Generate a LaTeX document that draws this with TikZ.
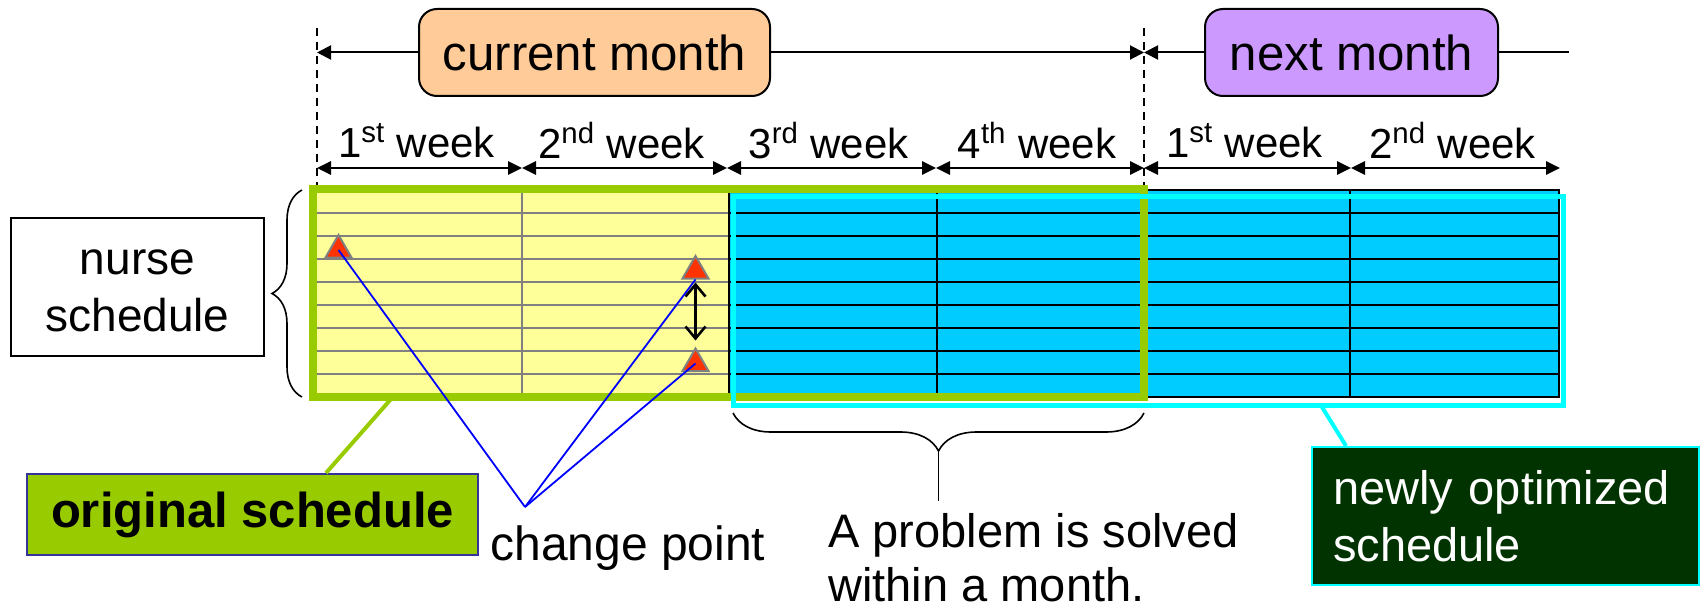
\documentclass[tikz,border=0pt]{standalone}
\usepackage{fontspec}
\setmainfont{Liberation Sans}
\usetikzlibrary{arrows.meta,shapes.geometric,decorations.pathreplacing}

\definecolor{schedyellow}{HTML}{FFFF99}
\definecolor{schedblue}{HTML}{00CCFF}
\definecolor{origgreen}{HTML}{99CC00}
\definecolor{newcyan}{HTML}{00FFFF}
\definecolor{curorange}{HTML}{FFCC99}
\definecolor{nextpurple}{HTML}{CC99FF}
\definecolor{darkgreen}{HTML}{003300}
\definecolor{boxblue}{HTML}{333399}
\definecolor{pointred}{HTML}{FF3300}

\begin{document}
\begin{tikzpicture}[x=0.5pt,y=-0.5pt,
  bigtext/.style={font=\fontsize{24}{28.5}\selectfont},
  monthbox/.style={draw,line width=1pt,rounded corners=9pt,minimum height=43.5pt,font=\fontsize{24.6}{29}\selectfont},
  weeklbl/.style={font=\fontsize{21}{25}\selectfont},
  monthline/.style={line width=1pt,-{Triangle[length=7pt,width=7pt]}},
  weekline/.style={line width=1.4pt,{Triangle[length=7pt,width=6.5pt]}-{Triangle[length=7pt,width=6.5pt]}},
  grayrow/.style={gray,line width=1pt},
  blackrow/.style={black,line width=1pt},
  changept/.style={regular polygon,regular polygon sides=3,fill=pointred,draw=gray,line width=1pt,minimum size=15pt,inner sep=0pt},
  pointline/.style={blue,line width=0.9pt},
]
\useasboundingbox (0,0) rectangle (1702,610);

% first two weeks, kept from the old schedule
\fill[schedyellow] (313,189) rectangle (729,397);
\foreach \y in {213,236,...,374}
  \draw[grayrow] (313,\y) -- (729,\y);
\draw[grayrow] (522,189) -- (522,397);

% weeks that get scheduled again
\fill[schedblue] (729,190) rectangle (1559,397);
\foreach \y in {213,236,...,374}
  \draw[blackrow] (729,\y) -- (1559,\y);
\foreach \x in {937,1144,1350}
  \draw[blackrow] (\x,190) -- (\x,397);
\draw[line width=0.8pt] (729,190) rectangle (1559,397);

% month borders
\coordinate (d0top) at (317,28);
\coordinate (d0bot) at (317,190);
\coordinate (d1top) at (1144,28);
\coordinate (d1bot) at (1144,190);
\draw[line width=0.8pt,dash pattern=on 4pt off 3pt] (d0top) -- (d0bot);
\draw[line width=0.8pt,dash pattern=on 4pt off 3pt] (d1top) -- (d1bot);

\draw[origgreen,line width=4pt] (313,189) rectangle (1144,397);
\draw[newcyan,line width=2.5pt] (733,196) rectangle (1563,405);

% months
\node[monthbox,fill=curorange,minimum width=175.5pt] (cur) at (594.5,52.5) {current month};
\node[monthbox,fill=nextpurple,minimum width=146.5pt] (nxt) at (1351.5,52.5) {next month};
\coordinate (m0) at (317,52.5);
\coordinate (m1) at (1144,52.5);
\coordinate (m2) at (1569,52.5);
\draw[monthline] (cur.west) -- (m0);
\draw[monthline] (cur.east) -- (m1);
\draw[monthline] (nxt.west) -- (m1);
\draw[line width=1pt] (nxt.east) -- (m2);

% weeks
\foreach \i/\xa/\xb/\lbl in {1/317/522/{1\textsuperscript{st} week},
                             2/522/727/{2\textsuperscript{nd} week},
                             3/727/936/{3\textsuperscript{rd} week},
                             4/936/1144/{4\textsuperscript{th} week},
                             5/1144/1351/{1\textsuperscript{st} week},
                             6/1351/1560/{2\textsuperscript{nd} week}}
{
  \node[weeklbl] (wk\i) at ({(\xa+\xb)/2-3},141) {\lbl};
  \draw[weekline] (\xa,168) -- (\xb,168);
}

% change points
\node[changept] (cp1) at (338.5,250) {};
\node[changept] (cp2) at (695.5,271) {};
\node[changept] (cp3) at (695.5,363.5) {};
\draw[line width=1.3pt,{Straight Barb[length=6pt,width=10pt]}-{Straight Barb[length=6pt,width=10pt]},
  shorten <=1.5pt,shorten >=3pt] (cp2.south) -- (cp3.north);
\coordinate (cpjoin) at (525,507);
\draw[pointline] (cpjoin) -- (cp1.center);
\draw[pointline] (cpjoin) -- (cp2.south);
\draw[pointline] (cpjoin) -- (cp3.center);
\node[bigtext,anchor=base west,inner sep=0pt] (cptext) at (490,560) {change point};

% nurse schedule
\node[draw,line width=1pt,minimum width=126.5pt,minimum height=69pt,align=center,
  font=\fontsize{23}{28.5}\selectfont] (nurse) at (137.5,287) {\vphantom{l}nurse\\schedule};
\draw[decorate,decoration={brace,amplitude=15pt},line width=0.8pt] (302,397) -- (302,190);

% one month is solved
\draw[decorate,decoration={brace,amplitude=19pt},line width=0.8pt] (1144,413) -- (733,413);
\coordinate (solvetip) at (938.5,451);
\coordinate (solveend) at (938.5,501);
\draw[line width=0.8pt] (solvetip) -- (solveend);
\node[anchor=west,inner sep=0pt,align=left,font=\fontsize{23.5}{27}\selectfont] (solved) at (828,558)
  {A problem is solved\\within a month.};

% labels of the two schedules
\node[draw=boxblue,fill=origgreen,line width=1pt,minimum width=225.5pt,minimum height=40.5pt,
  font=\bfseries\fontsize{24.5}{29}\selectfont] (orig) at (252.5,514.5) {original schedule};
\coordinate (origfoot) at (391,399);
\draw[origgreen,line width=2pt] (origfoot) -- ([xshift=36.75pt]orig.north);

\node[draw=newcyan,fill=darkgreen,text=white,line width=1pt,text width=172.5pt,inner xsep=10.5pt,
  minimum height=69pt,align=left,font=\fontsize{23.5}{28.5}\selectfont] (newsched) at (1505.5,516)
  {newly optimized\\schedule};
\coordinate (newfoot) at (1322,407);
\draw[newcyan,line width=2pt] (newfoot) -- ([xshift=-79.75pt]newsched.north);
\end{tikzpicture}
\end{document}
